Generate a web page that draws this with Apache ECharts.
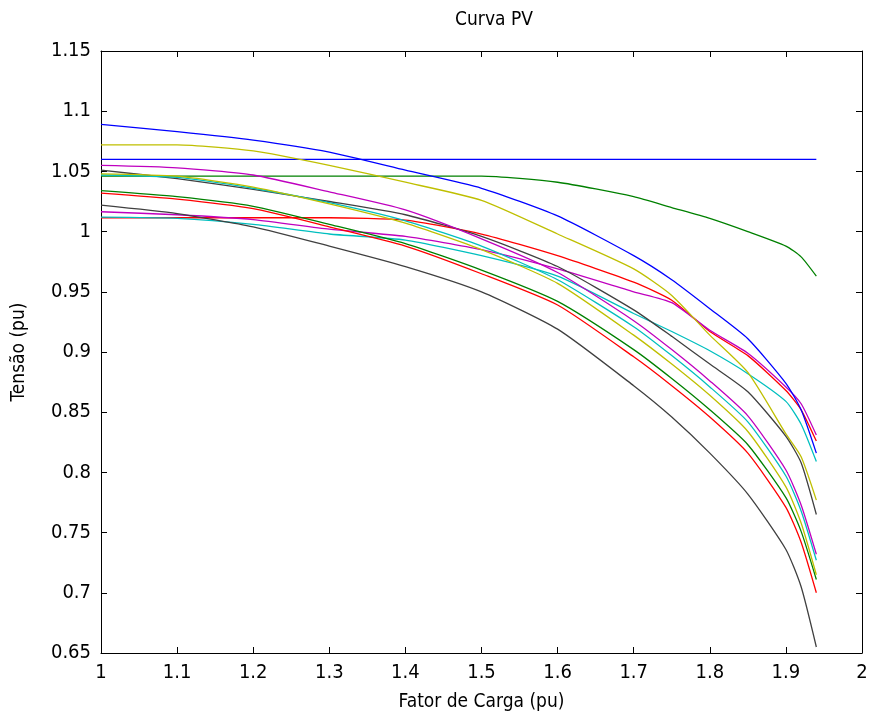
<!DOCTYPE html>
<html lang="pt">
<head>
  <meta charset="UTF-8">
  <title>Curva PV</title>
  <script src="https://cdn.jsdelivr.net/npm/echarts@6/dist/echarts.min.js"></script>
  <style>
    html, body { margin: 0; padding: 0; background: #fff; }
    #main { width: 874px; height: 718px; }
  </style>
</head>
<body>
<div id="main"></div>
<script>
// fator de carga (eixo x)
var loadFactor = [1.0, 1.1, 1.2, 1.3, 1.4, 1.5, 1.6, 1.7, 1.75, 1.8, 1.85, 1.9, 1.92, 1.94];

// tensao de cada barra (pu)
var bus1  = [1.06, 1.06, 1.06, 1.06, 1.06, 1.06, 1.06, 1.06, 1.06, 1.06, 1.06, 1.06, 1.06, 1.06];
var bus2  = [1.046, 1.046, 1.046, 1.046, 1.046, 1.046, 1.041, 1.029, 1.020, 1.011, 1.000, 0.988, 0.979, 0.963];
var bus3  = [1.0115, 1.0115, 1.0115, 1.0115, 1.0095, 0.998, 0.980, 0.958, 0.943, 0.917, 0.897, 0.868, 0.852, 0.826];
var bus4  = [1.012, 1.011, 1.006, 0.998, 0.993, 0.980, 0.963, 0.932, 0.917, 0.901, 0.882, 0.859, 0.840, 0.809];
var bus5  = [1.0165, 1.014, 1.010, 1.002, 0.996, 0.985, 0.969, 0.950, 0.941, 0.918, 0.899, 0.871, 0.857, 0.831];
var bus6  = [1.072, 1.072, 1.067, 1.055, 1.041, 1.026, 0.998, 0.969, 0.947, 0.914, 0.883, 0.832, 0.813, 0.777];
var bus7  = [1.051, 1.044, 1.035, 1.025, 1.014, 0.996, 0.971, 0.935, 0.913, 0.890, 0.867, 0.830, 0.808, 0.765];
var bus8  = [1.089, 1.083, 1.076, 1.066, 1.051, 1.036, 1.013, 0.980, 0.960, 0.936, 0.911, 0.874, 0.852, 0.816];
var bus9  = [1.034, 1.029, 1.021, 1.006, 0.990, 0.968, 0.942, 0.902, 0.878, 0.852, 0.823, 0.779, 0.751, 0.711];
var bus10 = [1.032, 1.027, 1.019, 1.004, 0.988, 0.965, 0.939, 0.896, 0.872, 0.846, 0.816, 0.771, 0.742, 0.700];
var bus11 = [1.047, 1.045, 1.036, 1.024, 1.009, 0.988, 0.960, 0.921, 0.897, 0.871, 0.842, 0.797, 0.768, 0.727];
var bus12 = [1.055, 1.053, 1.047, 1.033, 1.018, 0.994, 0.966, 0.926, 0.902, 0.876, 0.847, 0.802, 0.773, 0.732];
var bus13 = [1.048, 1.046, 1.037, 1.023, 1.007, 0.985, 0.957, 0.914, 0.890, 0.864, 0.834, 0.788, 0.758, 0.715];
var bus14 = [1.022, 1.015, 1.004, 0.988, 0.971, 0.950, 0.919, 0.872, 0.846, 0.816, 0.782, 0.736, 0.705, 0.655];

var buses = [bus1, bus2, bus3, bus4, bus5, bus6, bus7, bus8, bus9, bus10, bus11, bus12, bus13, bus14];
// ordem de cores do matlab: b g r c m y k
var colors = ['#0000ff', '#008000', '#ff0000', '#00bfbf', '#bf00bf', '#bfbf00', '#404040'];

var font = "'Liberation Sans Narrow', 'DejaVu Sans Condensed', 'Liberation Sans', sans-serif";

var series = buses.map(function(v, i) {
  return {
    name: 'Barra ' + (i + 1),
    type: 'line',
    xAxisIndex: 0,
    yAxisIndex: 0,
    showSymbol: false,
    animation: false,
    smooth: 0.2,
    lineStyle: { width: 1.3, color: colors[i % 7] },
    data: loadFactor.map(function(x, j) { return [x, v[j]]; })
  };
});

var myChart = echarts.init(document.getElementById('main'));

function frameAxis(show) {
  return {
    axisLine: { show: true, onZero: false, lineStyle: { color: '#000', width: 1 } },
    axisTick: { show: true, inside: true, length: 6, lineStyle: { color: '#000' } },
    splitLine: { show: false },
    axisLabel: { show: show, color: '#000', fontSize: 20, fontFamily: font, margin: 10 }
  };
}

var option = {
  backgroundColor: '#fff',
  title: {
    text: 'Curva PV',
    left: 489,
    top: 6,
    textAlign: 'center',
    textStyle: { color: '#000', fontWeight: 'normal', fontSize: 19, fontFamily: font }
  },
  grid: { left: 101, right: 12, top: 51, bottom: 65 },
  xAxis: [
    Object.assign(frameAxis(true), {
      type: 'value', position: 'bottom', min: 1, max: 2, interval: 0.1,
      name: 'Fator de Carga (pu)', nameLocation: 'middle', nameGap: 40,
      nameTextStyle: { color: '#000', fontSize: 19, fontFamily: font }
    }),
    Object.assign(frameAxis(false), { type: 'value', position: 'top', min: 1, max: 2, interval: 0.1 })
  ],
  yAxis: [
    Object.assign(frameAxis(true), {
      type: 'value', position: 'left', min: 0.65, max: 1.15, interval: 0.05,
      name: 'Tensão (pu)', nameLocation: 'middle', nameGap: 72,
      nameTextStyle: { color: '#000', fontSize: 19, fontFamily: font }
    }),
    Object.assign(frameAxis(false), { type: 'value', position: 'right', min: 0.65, max: 1.15, interval: 0.05 })
  ],
  series: series
};
myChart.setOption(option);
</script>
</body>
</html>
